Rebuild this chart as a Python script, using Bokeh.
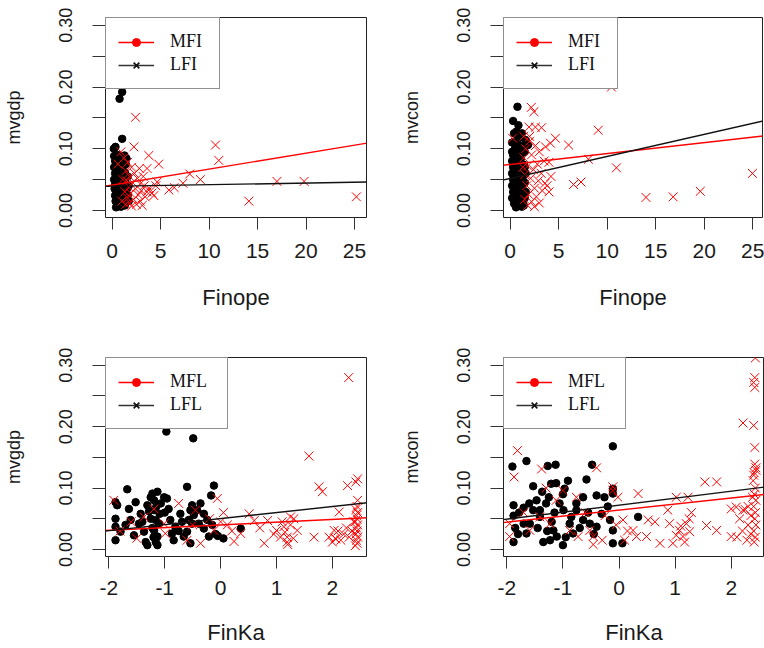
from bokeh.plotting import figure
from bokeh.models import (Range1d, FixedTicker, PrintfTickFormatter, Slope,
                          Legend, LegendItem, ColumnDataSource)
from bokeh.layouts import column, row
from bokeh.embed import file_html
from bokeh.resources import INLINE

# ---------------- data ----------------
y_major_ticks = [0.0, 0.1, 0.2, 0.3]
y_minor_ticks = [0.05, 0.15, 0.25]
finope_ticks = [0, 5, 10, 15, 20, 25]
finka_ticks = [-2, -1, 0, 1, 2]

# Panel 1: Finope vs mvgdp
p1_lfi = [(1.03, 0.192), (0.76, 0.181), (1.03, 0.116), (0.34, 0.103), (0.17, 0.100),
          (1.27, 0.089), (1.48, 0.084),
          (0.3, 0.080), (0.5, 0.078), (0.8, 0.075), (1.1, 0.072), (0.4, 0.070), (0.7, 0.066),
          (1.0, 0.064), (1.3, 0.062), (0.3, 0.060), (0.6, 0.058), (0.9, 0.055), (1.2, 0.053),
          (0.45, 0.050), (0.75, 0.048), (1.05, 0.046), (1.4, 0.044), (0.3, 0.042), (0.6, 0.040),
          (0.9, 0.038), (1.2, 0.036), (1.5, 0.034), (0.4, 0.032), (0.7, 0.030), (1.0, 0.028),
          (1.3, 0.026), (0.3, 0.024), (0.6, 0.022), (0.9, 0.020), (1.2, 0.018), (1.5, 0.016),
          (0.5, 0.014), (0.8, 0.012), (1.1, 0.010), (0.6, 0.008), (0.9, 0.006), (0.35, 0.015),
          (0.55, 0.090), (0.2, 0.088), (0.95, 0.085), (1.6, 0.025), (1.7, 0.040), (0.25, 0.035),
          (0.65, 0.044), (1.15, 0.060), (0.85, 0.068),
          (0.4, 0.005), (1.3, 0.008), (0.2, 0.050), (0.2, 0.070), (1.6, 0.055), (1.7, 0.015),
          (1.4, 0.075), (0.5, 0.035), (1.0, 0.045), (1.35, 0.050)]
p1_mfi = [(2.41, 0.151), (2.24, 0.103), (3.78, 0.089), (4.8, 0.075), (3.6, 0.068), (4.64, 0.046),
          (4.3, 0.024), (10.66, 0.106), (11.0, 0.081), (8.0, 0.059), (9.1, 0.050), (7.3, 0.044),
          (6.4, 0.037), (5.85, 0.033), (14.1, 0.015), (17.0, 0.047), (19.8, 0.047), (25.2, 0.022),
          (1.2, 0.085), (1.6, 0.078), (2.0, 0.070), (1.4, 0.064), (2.3, 0.060), (1.8, 0.055),
          (2.6, 0.052), (1.5, 0.048), (2.1, 0.045), (2.9, 0.043), (3.3, 0.040), (1.7, 0.038),
          (2.4, 0.035), (3.0, 0.032), (3.6, 0.030), (1.9, 0.028), (2.7, 0.025), (3.4, 0.022),
          (1.6, 0.020), (2.2, 0.018), (2.9, 0.015), (1.8, 0.012), (2.5, 0.010), (2.0, 0.007),
          (3.1, 0.008), (1.3, 0.030), (0.9, 0.095), (0.6, 0.075), (1.1, 0.050), (3.8, 0.036),
          (4.1, 0.028), (2.8, 0.068), (1.0, 0.015), (1.4, 0.010), (4.5, 0.040), (3.2, 0.055)]
p1_mfi_line = (0.0412, 0.00258)   # (intercept, slope)
p1_lfi_line = (0.0391, 0.00026)

# Panel 2: Finope vs mvcon
p2_lfi = [(0.75, 0.168), (0.3, 0.145), (0.85, 0.138), (0.65, 0.128), (1.6, 0.114), (1.84, 0.106),
          (0.3, 0.110), (0.7, 0.108), (1.1, 0.105), (0.5, 0.100), (0.9, 0.097), (1.3, 0.094),
          (0.3, 0.090), (0.7, 0.087), (1.1, 0.084), (0.5, 0.080), (0.9, 0.077), (1.4, 0.074),
          (0.3, 0.070), (0.7, 0.067), (1.1, 0.064), (0.5, 0.060), (0.9, 0.057), (1.3, 0.054),
          (0.3, 0.050), (0.7, 0.047), (1.1, 0.044), (0.5, 0.040), (0.9, 0.037), (1.3, 0.034),
          (0.3, 0.030), (0.7, 0.027), (1.1, 0.024), (0.5, 0.020), (0.9, 0.017), (1.3, 0.014),
          (0.4, 0.011), (0.8, 0.008), (1.2, 0.006), (0.6, 0.013), (1.5, 0.020), (1.5, 0.045),
          (1.5, 0.070), (0.2, 0.020), (0.2, 0.060), (0.2, 0.095), (1.0, 0.118), (1.2, 0.125),
          (0.2, 0.040), (0.2, 0.080), (0.2, 0.110), (1.5, 0.095), (1.6, 0.060), (1.6, 0.030),
          (1.0, 0.010), (0.6, 0.005), (1.4, 0.008), (0.4, 0.125), (0.8, 0.120), (1.0, 0.090),
          (0.6, 0.075), (1.2, 0.040), (0.4, 0.055), (0.8, 0.030)]
p2_mfi = [(2.28, 0.206), (10.44, 0.200), (2.18, 0.167), (2.45, 0.160), (1.94, 0.135), (2.6, 0.135),
          (3.23, 0.134), (9.08, 0.130), (6.02, 0.106), (4.66, 0.117), (4.15, 0.109), (3.64, 0.103),
          (8.06, 0.083), (10.95, 0.069), (6.53, 0.042), (7.3, 0.046), (14.0, 0.021), (16.8, 0.022),
          (19.6, 0.031), (24.97, 0.060), (0.24, 0.117),
          (1.4, 0.120), (2.0, 0.112), (2.6, 0.105), (1.6, 0.100), (3.0, 0.095), (2.2, 0.090),
          (1.4, 0.085), (3.5, 0.080), (2.8, 0.075), (1.8, 0.072), (2.4, 0.066), (3.2, 0.060),
          (4.0, 0.078), (1.5, 0.058), (2.1, 0.052), (2.9, 0.048), (3.6, 0.044), (1.7, 0.040),
          (2.5, 0.036), (3.3, 0.032), (4.0, 0.030), (1.9, 0.026), (2.7, 0.022), (1.5, 0.018),
          (2.2, 0.014), (3.0, 0.012), (1.8, 0.008), (2.5, 0.006), (3.8, 0.040), (4.2, 0.055),
          (1.3, 0.070), (2.0, 0.120)]
p2_mfi_line = (0.0745, 0.00177)
p2_lfi_line = (0.0518, 0.00357)

# Panel 3: FinKa vs mvgdp
p3_lfl = [(-0.97, 0.192), (-0.49, 0.181), (-1.67, 0.098), (-0.6, 0.102), (-0.12, 0.104),
          (-0.17, 0.088), (0.36, 0.034), (0.05, 0.018), (-0.09, 0.025),
          (-1.88, 0.077), (-1.85, 0.072), (-1.88, 0.050), (-1.88, 0.037), (-1.88, 0.015),
          (-1.79, 0.029), (-1.64, 0.066), (-1.61, 0.048), (-1.55, 0.023), (-1.52, 0.077),
          (-1.46, 0.042), (-1.43, 0.058), (-1.37, 0.029), (-1.34, 0.012), (-1.31, 0.072),
          (-1.25, 0.085), (-1.22, 0.091), (-1.19, 0.080), (-1.19, 0.064), (-1.16, 0.048),
          (-1.19, 0.031), (-1.16, 0.012), (-1.13, 0.021), (-1.10, 0.042), (-1.09, 0.058),
          (-1.07, 0.075), (-1.01, 0.085), (-1.13, 0.094), (-0.96, 0.083), (-0.93, 0.066),
          (-0.90, 0.048), (-0.87, 0.026), (-0.84, 0.015), (-0.81, 0.037), (-0.72, 0.058),
          (-0.69, 0.045), (-0.66, 0.021), (-0.60, 0.029), (-0.57, 0.048), (-0.54, 0.064),
          (-0.51, 0.042), (-0.48, 0.056), (-0.51, 0.072), (-0.42, 0.064), (-0.39, 0.042),
          (-0.30, 0.034), (-0.24, 0.048), (-0.21, 0.021), (-0.36, 0.075), (-0.54, 0.010),
          (-1.13, 0.007), (-1.31, 0.007), (-1.25, 0.050), (-1.22, 0.035), (-1.28, 0.062),
          (-1.15, 0.070), (-1.2, 0.020), (-1.4, 0.045), (-0.75, 0.030), (-1.7, 0.040),
          (-1.0, 0.060), (-0.3, 0.058), (-0.15, 0.040), (-0.05, 0.022)]
p3_mfl = [(2.29, 0.280), (1.58, 0.152), (1.76, 0.102), (1.82, 0.094), (2.45, 0.115), (2.27, 0.104),
          (2.45, 0.080), (2.12, 0.061), (2.42, 0.110),
          (2.44, 0.070), (2.42, 0.065), (2.45, 0.060), (2.43, 0.055), (2.44, 0.050), (2.41, 0.045),
          (2.45, 0.040), (2.43, 0.035), (2.44, 0.030), (2.42, 0.025), (2.45, 0.020), (2.43, 0.015),
          (2.44, 0.010), (2.41, 0.006), (2.35, 0.030), (2.30, 0.020), (2.25, 0.035), (2.2, 0.025),
          (2.15, 0.015), (2.1, 0.030), (2.05, 0.018), (2.0, 0.012), (2.38, 0.045),
          (0.12, 0.040), (0.24, 0.013), (0.36, 0.026), (0.51, 0.058), (0.60, 0.047), (0.78, 0.010),
          (0.84, 0.047), (1.0, 0.031), (1.07, 0.020), (1.13, 0.037), (1.19, 0.012), (1.25, 0.053),
          (1.31, 0.050), (1.37, 0.031), (1.19, 0.020), (1.67, 0.020), (1.94, 0.020), (2.03, 0.031),
          (2.06, 0.017), (1.25, 0.040), (1.1, 0.045), (0.95, 0.025), (0.2, 0.030), (0.0, 0.045),
          (1.15, 0.028), (1.3, 0.018), (0.7, 0.035), (1.2, 0.008),
          (-1.91, 0.080), (-0.75, 0.075), (-1.19, 0.066), (-1.37, 0.053), (-1.01, 0.042),
          (-0.99, 0.026), (-0.60, 0.015), (-0.36, 0.010), (-0.12, 0.031), (-0.06, 0.083),
          (-0.45, 0.064), (-1.6, 0.045), (-1.8, 0.030), (-1.5, 0.018), (-0.5, 0.040),
          (-0.2, 0.050), (0.05, 0.060)]
p3_mfl_line = (0.0400, 0.00441)
p3_lfl_line = (0.0502, 0.00985)

# Panel 4: FinKa vs mvcon
p4_lfl = [(-0.11, 0.168), (-1.9, 0.135), (-1.65, 0.144), (-1.27, 0.136), (-1.13, 0.138),
          (-0.48, 0.138), (-0.58, 0.114), (0.34, 0.053), (-0.11, 0.010), (0.06, 0.010),
          (-1.88, 0.072), (-1.88, 0.012), (-1.88, 0.055), (-1.85, 0.035), (-1.53, 0.103),
          (-1.37, 0.094), (-1.21, 0.107), (-1.12, 0.108), (-0.91, 0.112), (-0.97, 0.099),
          (-0.40, 0.088), (-0.26, 0.085), (-0.11, 0.099), (-0.11, 0.091), (-1.65, 0.026),
          (-1.0, 0.007), (-1.17, 0.031), (-1.41, 0.064), (-1.47, 0.080), (-1.59, 0.042),
          (-1.06, 0.075), (-0.99, 0.064), (-0.88, 0.042), (-0.82, 0.026), (-0.76, 0.064),
          (-0.64, 0.048), (-0.52, 0.042), (-0.40, 0.037), (-0.31, 0.058), (-0.16, 0.048),
          (-0.11, 0.031), (-1.23, 0.015), (-1.11, 0.021), (-0.85, 0.053), (-0.76, 0.075),
          (-0.64, 0.085), (-1.41, 0.053), (-1.53, 0.064), (-1.7, 0.042), (-1.78, 0.060),
          (-1.3, 0.075), (-1.25, 0.085), (-1.2, 0.045), (-1.15, 0.060), (-1.28, 0.030),
          (-1.0, 0.090), (-0.55, 0.060), (-0.45, 0.025), (-0.2, 0.070), (-0.7, 0.035),
          (-1.6, 0.075), (-1.45, 0.035), (-1.35, 0.012), (-0.95, 0.020), (-1.7, 0.068),
          (-1.8, 0.025)]
p4_mfl = [(2.43, 0.312), (2.42, 0.280), (2.40, 0.272), (2.42, 0.264), (2.21, 0.206), (2.40, 0.202),
          (2.42, 0.166), (2.42, 0.139), (2.44, 0.129), (2.40, 0.121), (2.39, 0.112), (2.44, 0.133),
          (2.41, 0.125),
          (2.43, 0.100), (2.41, 0.090), (2.44, 0.080), (2.40, 0.070), (2.43, 0.060), (2.42, 0.050),
          (2.44, 0.040), (2.40, 0.030), (2.43, 0.020), (2.41, 0.012), (2.35, 0.055), (2.3, 0.040),
          (2.25, 0.065), (2.2, 0.030), (2.15, 0.050), (2.1, 0.020), (2.35, 0.025), (2.3, 0.070),
          (2.28, 0.015), (2.38, 0.085), (2.0, 0.066), (2.09, 0.069), (2.21, 0.064), (2.0, 0.021),
          (1.53, 0.110), (1.74, 0.110), (1.02, 0.085), (1.23, 0.085), (1.29, 0.060), (1.56, 0.039),
          (1.74, 0.031), (0.52, 0.048), (0.64, 0.045), (0.73, 0.010), (0.49, 0.021), (0.25, 0.031),
          (0.31, 0.021), (0.07, 0.048), (0.87, 0.064), (0.9, 0.042), (1.02, 0.023), (1.08, 0.031),
          (1.14, 0.021), (1.17, 0.012), (1.2, 0.042), (1.26, 0.029), (0.96, 0.010), (1.25, 0.050),
          (1.1, 0.038), (0.34, 0.091), (0.15, 0.030), (0.1, 0.015),
          (-1.81, 0.161), (-1.87, 0.118), (-1.38, 0.131), (-0.40, 0.133), (-0.11, 0.102),
          (-0.11, 0.096), (-0.02, 0.085), (-0.46, 0.021), (-0.46, 0.008), (-0.52, 0.031),
          (-0.76, 0.085), (-0.73, 0.021), (-1.0, 0.096), (-1.12, 0.080), (-1.23, 0.042),
          (-1.41, 0.053), (-1.95, 0.042), (-1.95, 0.021), (-1.59, 0.031), (-0.88, 0.031),
          (-1.3, 0.100), (-1.7, 0.060), (-0.6, 0.060), (-0.25, 0.055), (-0.05, 0.040),
          (-0.3, 0.015)]
p4_mfl_line = (0.0641, 0.00985)
p4_lfl_line = (0.0721, 0.01138)

# ---------------- styling ----------------
SANS = "Liberation Sans"
SERIF = "Liberation Serif"
Y_LIM = (-0.0115, 0.3127)
NAN = float("nan")


def make_panel(border, x_lim, x_ticks, x_label, y_label, black_pts, red_pts,
               red_line, black_line, labels, label_w, xt_standoff, xl_standoff):
    left, top, right, bottom = border
    p = figure(width=382, height=324, output_backend="svg", toolbar_location=None,
               x_range=Range1d(*x_lim), y_range=Range1d(*Y_LIM),
               min_border_left=left, min_border_top=top,
               min_border_right=right, min_border_bottom=bottom)
    p.grid.visible = False
    p.outline_line_color = "#222222"
    p.outline_line_width = 1
    p.background_fill_color = "white"
    p.border_fill_color = "white"

    xa = p.xaxis[0]
    xa.ticker = FixedTicker(ticks=x_ticks)
    xa.formatter = PrintfTickFormatter(format="%d")
    xa.axis_line_color = None
    xa.major_tick_out = 12
    xa.major_tick_in = 0
    xa.minor_tick_out = 0
    xa.minor_tick_in = 0
    xa.major_tick_line_color = "#333333"
    xa.major_label_text_font = SANS
    xa.major_label_text_font_size = "21px"
    xa.major_label_text_color = "#1a1a1a"
    xa.major_label_standoff = xt_standoff
    xa.axis_label = x_label
    xa.axis_label_text_font = SANS
    xa.axis_label_text_font_size = "22px"
    xa.axis_label_text_font_style = "normal"
    xa.axis_label_text_color = "#1a1a1a"
    xa.axis_label_standoff = xl_standoff

    ya = p.yaxis[0]
    ya.ticker = FixedTicker(ticks=y_major_ticks, minor_ticks=y_minor_ticks)
    ya.formatter = PrintfTickFormatter(format="%.2f")
    ya.axis_line_color = None
    ya.major_label_orientation = "vertical"
    ya.major_tick_out = 13
    ya.major_tick_in = 0
    ya.minor_tick_out = 13
    ya.minor_tick_in = 0
    ya.major_tick_line_color = "#333333"
    ya.minor_tick_line_color = "#333333"
    ya.major_label_text_font = SANS
    ya.major_label_text_font_size = "18px"
    ya.major_label_text_color = "#1a1a1a"
    ya.major_label_standoff = 20
    ya.axis_label = y_label
    ya.axis_label_text_font = SANS
    ya.axis_label_text_font_size = "18px"
    ya.axis_label_text_font_style = "normal"
    ya.axis_label_text_color = "#1a1a1a"
    ya.axis_label_standoff = 33

    p.scatter([q[0] for q in black_pts], [q[1] for q in black_pts], marker="circle",
              size=7.5, fill_color="black", line_color="black")
    p.scatter([q[0] for q in red_pts], [q[1] for q in red_pts], marker="x",
              size=12.5, line_color="red", line_width=1.0)

    p.add_layout(Slope(gradient=red_line[1], y_intercept=red_line[0],
                       line_color="red", line_width=1.4))
    p.add_layout(Slope(gradient=black_line[1], y_intercept=black_line[0],
                       line_color="#111111", line_width=1.4))

    # legend-only renderers (no visible data points)
    dummy = ColumnDataSource(data=dict(x=[NAN], y=[NAN]))
    r_line = p.line("x", "y", source=dummy, line_color="red", line_width=1.4)
    r_dot = p.scatter("x", "y", source=dummy, marker="circle", size=7,
                      fill_color="red", line_color="red")
    k_line = p.line("x", "y", source=dummy, line_color="#333333", line_width=1.4)
    k_x = p.scatter("x", "y", source=dummy, marker="x", size=9,
                    line_color="#111111", line_width=1.6)
    legend = Legend(items=[LegendItem(label=labels[0], renderers=[r_line, r_dot], index=0),
                           LegendItem(label=labels[1], renderers=[k_line, k_x], index=0)],
                    location="top_left", margin=0, padding=12, spacing=0,
                    glyph_width=36, glyph_height=20, label_height=23,
                    label_width=label_w, label_standoff=16,
                    border_line_color="#222222", border_line_width=1.3,
                    background_fill_color="white", background_fill_alpha=1.0,
                    label_text_font=SERIF, label_text_font_size="18px",
                    label_text_color="#111111")
    p.add_layout(legend)
    return p


p1 = make_panel((105, 17, 16, 107), (-0.69, 26.24), finope_ticks, "Finope", "mvgdp",
                p1_lfi, p1_mfi, p1_mfi_line, p1_lfi_line, ("MFI", "LFI"), 37, 14, 24)
p2 = make_panel((121, 17, 2, 107), (-0.69, 26.01), finope_ticks, "Finope", "mvcon",
                p2_lfi, p2_mfi, p2_mfi_line, p2_lfi_line, ("MFI", "LFI"), 37, 14, 24)
p3 = make_panel((105, 33, 16, 92), (-2.059, 2.609), finka_ticks, "FinKa", "mvgdp",
                p3_lfl, p3_mfl, p3_mfl_line, p3_lfl_line, ("MFL", "LFL"), 45, 12, 22)
p4 = make_panel((121, 33, 0, 92), (-2.059, 2.593), finka_ticks, "FinKa", "mvcon",
                p4_lfl, p4_mfl, p4_mfl_line, p4_lfl_line, ("MFL", "LFL"), 45, 12, 22)

layout = column(row(p1, p2), row(p3, p4))
open("out.html", "w").write(file_html(layout, INLINE))
